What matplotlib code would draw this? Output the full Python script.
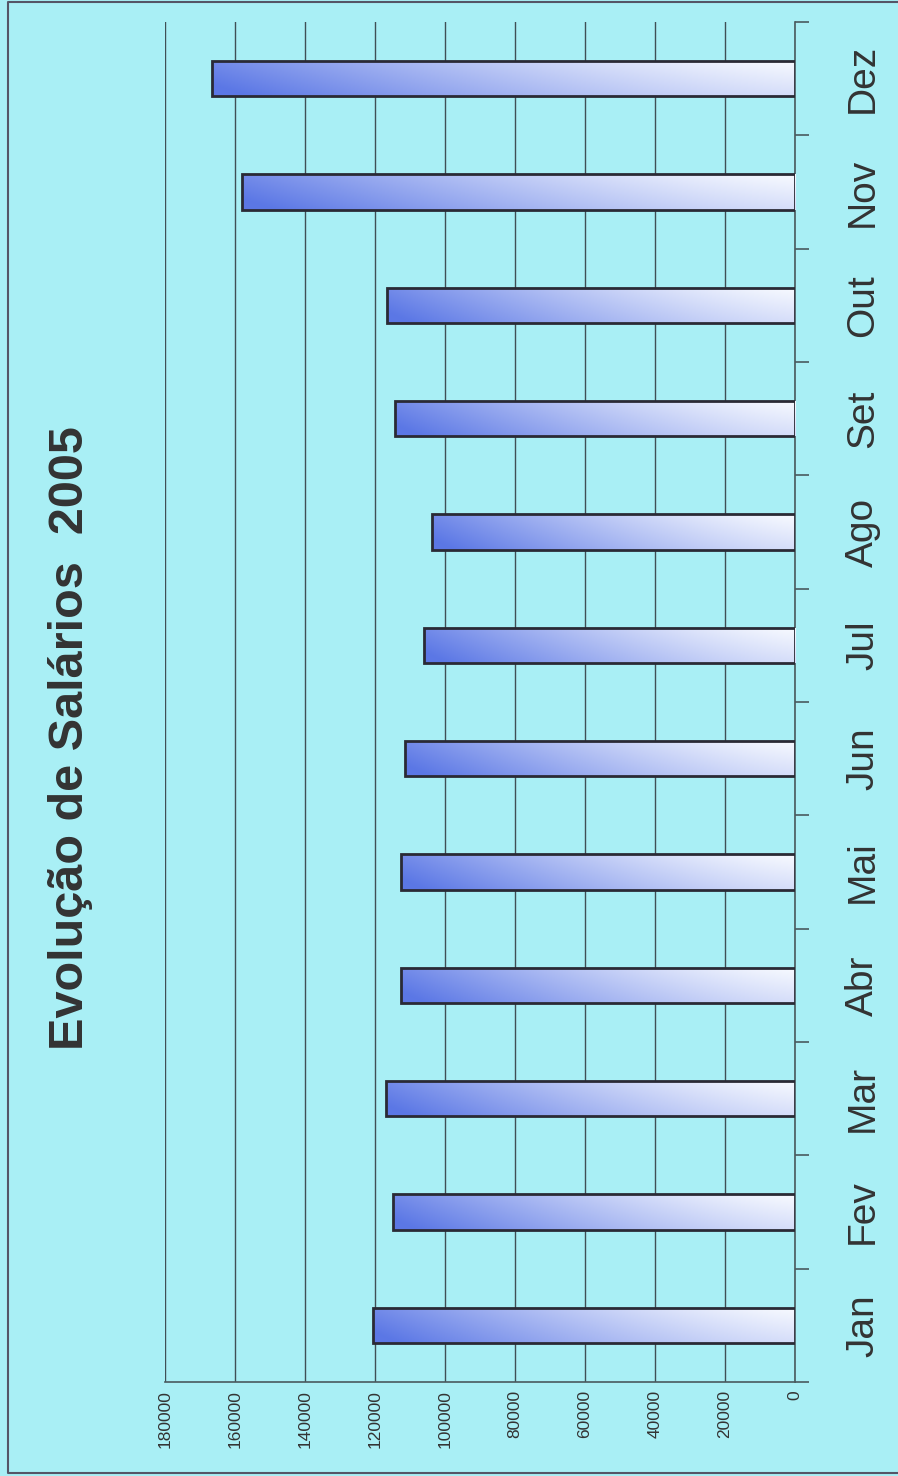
import numpy as np
import matplotlib
matplotlib.use("Agg")
import matplotlib.pyplot as plt
from matplotlib.patches import Rectangle
from matplotlib.lines import Line2D

meses = ["Jan", "Fev", "Mar", "Abr", "Mai", "Jun",
         "Jul", "Ago", "Set", "Out", "Nov", "Dez"]
salarios = [120500, 114800, 116800, 112500, 112500, 111400,
            106000, 103700, 114300, 116500, 158000, 166500]
ticks_valor = [0, 20000, 40000, 60000, 80000, 100000, 120000, 140000, 160000, 180000]
titulo = "Evolução de Salários  2005"

bg = "#a9eff5"
plt.rcParams["font.family"] = ["Liberation Sans", "DejaVu Sans"]

fig = plt.figure(figsize=(8.98, 14.76), dpi=100, facecolor=bg)
ax = fig.add_axes([0.1837, 0.0637, 0.7016, 0.9214])
ax.set_facecolor(bg)

pos = np.arange(len(meses))
bars = ax.barh(pos, salarios, height=0.31, color="none",
               edgecolor="#2a2a35", linewidth=2, zorder=4)

# gradient fill: white at zero, blue at the bar end, darker along the lower edge
nx, ny = 256, 32
gx = np.linspace(0, 1, nx)[None, :]
gy = np.linspace(0, 1, ny)[:, None]
t = np.clip(gx ** 1.3 * 0.85 + (1 - gy) * 0.22, 0, 1)
blue = np.array([0.36, 0.47, 0.90])
white = np.array([0.97, 0.98, 1.0])
img = white[None, None, :] * (1 - t[..., None]) + blue[None, None, :] * t[..., None]

for b in bars:
    x0, y0 = b.get_x(), b.get_y()
    w, h = b.get_width(), b.get_height()
    im = ax.imshow(img, extent=(x0, x0 + w, y0, y0 + h), origin="lower",
                   aspect="auto", zorder=3, interpolation="bilinear")
    clip = Rectangle((x0, y0), w, h, transform=ax.transData)
    im.set_clip_path(clip)

ax.set_xlim(180000, 0)
ax.set_ylim(-0.5, len(meses) - 0.5)

ax.set_xticks(ticks_valor)
ax.set_xticklabels([str(v) for v in ticks_valor], rotation=90,
                   fontsize=12.5, color="#333333")
ax.tick_params(axis="x", length=0, pad=6)
ax.grid(axis="x", color="#3f4f55", linewidth=1.0, zorder=1)
ax.set_axisbelow(True)

ax.yaxis.tick_right()
ax.set_yticks(pos)
ax.set_yticklabels(meses, rotation=90, fontsize=28, color="#333333", va="center")
ax.set_yticks(np.arange(len(meses) + 1) - 0.5, minor=True)
ax.tick_params(axis="y", which="major", length=0, pad=36)
ax.tick_params(axis="y", which="minor", length=10, width=1.2, color="#4a5a5e", direction="out")

for s in ["left", "top"]:
    ax.spines[s].set_visible(False)
ax.spines["right"].set_color("#4a5a5e")
ax.spines["right"].set_linewidth(1.2)
ax.spines["bottom"].set_color("#4a5a5e")
ax.spines["bottom"].set_linewidth(1.2)

fig.text(0.079, 0.5, titulo, rotation=90, fontsize=35, fontweight="bold",
         color="#333333", ha="center", va="center")

# frame of the sheet: top, left and bottom edges
frame_x = [1.0, 0.009, 0.009, 1.0]
frame_y = [0.9985, 0.9985, 0.0022, 0.0022]
fig.lines.append(Line2D(frame_x, frame_y, transform=fig.transFigure,
                        color="#555566", linewidth=1.5))

fig.savefig("out.png", dpi=100, facecolor=bg)
